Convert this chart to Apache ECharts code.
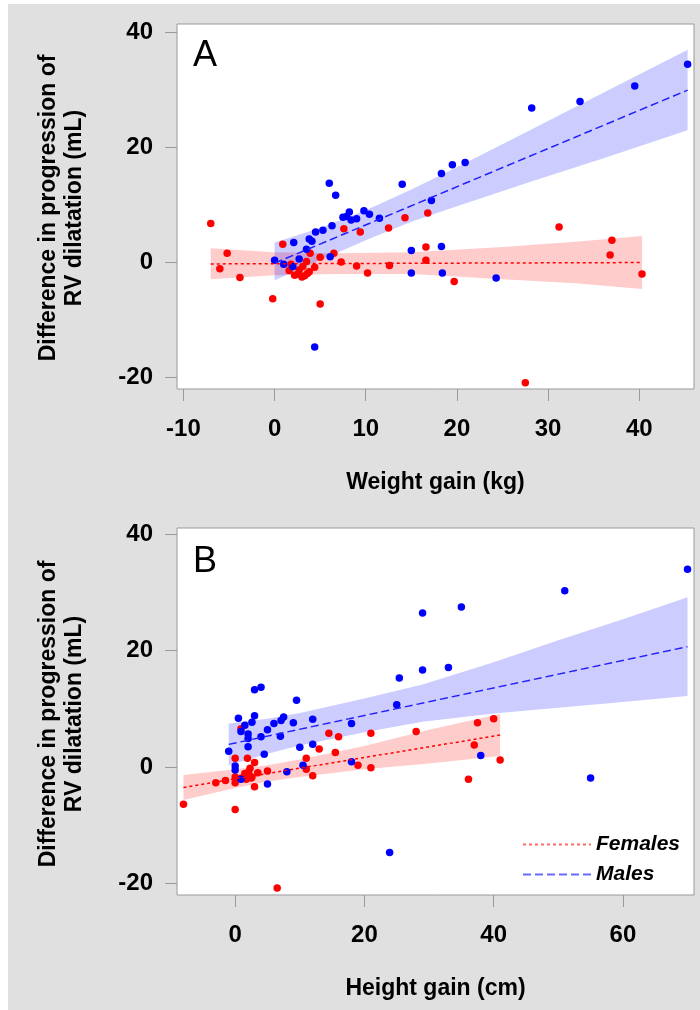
<!DOCTYPE html>
<html>
<head>
<meta charset="utf-8">
<title>RV dilatation vs weight and height gain</title>
<script src="https://cdn.jsdelivr.net/npm/echarts@6/dist/echarts.min.js"></script>
</head>
<body style="margin:0; background:#fff">
<div id="container" style="width:700px; height:1010px"></div>
<script type="text/javascript">
// points: [gain, difference in progression of RV dilatation]
var femalesWeight = [[-7.0,6.7],[-6.0,-1.2],[-5.2,1.5],[-3.8,-2.7],[-0.2,-6.4],[0.9,3.1],[1.8,-0.4],[1.6,-1.5],
    [2.2,-2.3],[2.6,-2.1],[2.7,-1.4],[3.0,-2.6],[3.3,-2.4],[3.1,-0.8],[3.5,0.1],[3.6,-2.0],[3.8,-1.7],[3.9,1.5],
    [4.4,-0.9],[5.0,0.8],[5.0,-7.3],[6.5,1.5],[7.3,0],[7.6,5.8],[9.0,-0.7],[9.4,5.2],[10.2,-1.9],[12.5,5.9],
    [12.6,-0.6],[14.3,7.7],[16.8,8.5],[16.6,0.3],[16.6,2.6],[19.7,-3.4],[27.5,-21.0],[31.2,6.1],[36.8,1.2],
    [37.0,3.8],[40.3,-2.1]];
var malesWeight = [[0,0.3],[1.0,-0.4],[2.0,-0.8],[2.1,3.4],[2.7,0.5],[3.5,2.2],[3.8,4.0],[4.1,3.6],[4.4,-14.8],
    [4.5,5.2],[5.3,5.5],[6.0,13.7],[6.1,0.9],[6.3,6.3],[6.7,11.6],[7.5,7.8],[7.9,7.9],[8.2,8.7],[8.4,7.3],
    [9.0,7.5],[9.8,8.9],[10.4,8.3],[11.5,7.6],[14.0,13.5],[15.0,2.0],[15.0,-1.9],[17.2,10.7],[18.3,15.4],
    [18.3,2.7],[18.4,-1.9],[19.5,16.9],[20.9,17.3],[24.3,-2.8],[28.2,26.8],[33.5,27.9],[39.5,30.6],[45.3,34.4]];
var femalesHeight = [[-8.0,-6.4],[-3.0,-2.7],[-1.5,-2.3],[0,-7.3],[0,1.5],[0,-1.7],[0,-2.7],[0.9,6.6],[1.0,-1.9],
    [1.7,-2.1],[1.5,-1.1],[1.9,1.5],[2.1,-0.8],[2.3,-0.2],[2.5,-1.9],[2.6,-1.7],[3.0,0.8],[3.0,-3.4],[3.5,-1.0],
    [5.0,-0.7],[6.5,-20.8],[11.0,1.5],[11.0,-0.4],[12.0,-1.5],[13.0,3.1],[14.5,5.8],[15.5,2.5],[16.0,5.2],
    [19.0,0.3],[21.0,5.8],[21.0,-0.1],[28.0,6.1],[36.1,-2.1],[37.0,3.8],[37.5,7.6],[40.0,8.3],[41.0,1.2]];
var malesHeight = [[-1.0,2.7],[0,0.2],[0,-0.5],[0.5,8.4],[0.9,6.1],[0.9,-2.1],[1.5,7.2],[2.0,5.7],[2.0,4.9],
    [2.0,3.5],[2.6,7.7],[3.0,13.3],[3.0,8.8],[4.0,13.7],[4.0,5.2],[4.5,2.2],[5.0,6.4],[5.0,-2.9],[6.0,7.5],
    [7.0,5.3],[7.1,8.0],[7.5,8.6],[8.0,-0.8],[9.0,7.6],[9.5,11.5],[10.0,3.4],[10.5,0.3],[12.0,8.2],[12.0,3.9],
    [18.0,0.9],[18.0,7.5],[23.9,-14.7],[25.0,10.7],[25.4,15.3],[29.0,26.5],[29.0,16.7],[33.0,17.1],[35.0,27.5],
    [38.0,2.0],[51.0,30.3],[55.0,-1.9],[70.0,34.0]];

// fitted lines (end points)
var fitFemalesWeight = [[-7.0,-0.34],[40.3,-0.1]];
var fitMalesWeight = [[0,-0.2],[45.3,29.9]];
var fitFemalesHeight = [[-8.0,-3.5],[41.0,5.5]];
var fitMalesHeight = [[-1.0,3.9],[70.0,20.7]];

// confidence bands: x, lower, upper
var bandFemalesWeightX = [-7, 0, 7, 15, 25, 33, 40.3];
var bandFemalesWeightLo = [-3.0, -2.3, -2.1, -2.1, -3.0, -3.7, -4.7];
var bandFemalesWeightHi = [2.4, 1.7, 1.5, 1.7, 2.6, 3.5, 4.5];
var bandMalesWeightX = [0, 5, 10, 15, 20, 28, 36, 45.3];
var bandMalesWeightLo = [-3.2, 0.3, 3.8, 7.0, 9.7, 13.9, 18.0, 22.9];
var bandMalesWeightHi = [3.4, 5.9, 9.0, 12.6, 16.5, 22.9, 29.4, 36.9];
var bandFemalesHeightX = [-8, 0, 5, 10, 20, 30, 41];
var bandFemalesHeightLo = [-5.65, -3.6, -2.5, -1.7, -0.4, 0.6, 1.9];
var bandFemalesHeightHi = [-1.35, -0.4, 0.3, 1.3, 3.6, 6.4, 9.1];
var bandMalesHeightX = [-1, 5, 10, 20, 29, 40, 50, 60, 70];
var bandMalesHeightLo = [0.3, 2.3, 3.7, 6.0, 7.8, 9.2, 10.2, 11.2, 12.2];
var bandMalesHeightHi = [7.5, 8.3, 9.3, 11.8, 14.2, 18.0, 21.8, 25.4, 29.2];

var xTicksWeight = [-10, 0, 10, 20, 30, 40];
var xTicksHeight = [0, 20, 40, 60];
var yTicks = [-20, 0, 20, 40];

var FONT = "'Liberation Sans', Arial, sans-serif";
var RED = '#ff0000', BLUE = '#0000ff';

var dom = document.getElementById('container');
var myChart = echarts.init(dom);

function xAxisFor(idx, min, max, ticks, name) {
    return {
        type: 'value', gridIndex: idx, min: min, max: max,
        name: name, nameLocation: 'middle', nameGap: 82,
        nameTextStyle: { fontFamily: FONT, fontWeight: 'bold', fontSize: 23, color: '#000' },
        axisLine: { show: false, onZero: false },
        axisTick: { show: true, length: 12, customValues: ticks, lineStyle: { color: '#999' } },
        axisLabel: { customValues: ticks, margin: 28, fontFamily: FONT, fontWeight: 'bold', fontSize: 24, color: '#000' },
        splitLine: { show: false }
    };
}
function yAxisFor(idx, min, max) {
    return {
        type: 'value', gridIndex: idx, min: min, max: max,
        axisLine: { show: false, onZero: false },
        axisTick: { show: true, length: 12, customValues: yTicks, lineStyle: { color: '#999' } },
        axisLabel: { customValues: yTicks, margin: 24, fontFamily: FONT, fontWeight: 'bold', fontSize: 24, color: '#000' },
        splitLine: { show: false }
    };
}
function bandSeries(idx, xs, lo, hi, fill) {
    return {
        type: 'custom', xAxisIndex: idx, yAxisIndex: idx, z: 1, silent: true,
        data: xs.map(function (x, i) { return [x, lo[i], hi[i]]; }),
        encode: { x: 0, y: [1, 2] },
        renderItem: function (params, api) {
            if (params.dataIndex !== 0) return null;
            var pts = [];
            for (var i = 0; i < xs.length; i++) pts.push(api.coord([xs[i], hi[i]]));
            for (var j = xs.length - 1; j >= 0; j--) pts.push(api.coord([xs[j], lo[j]]));
            return { type: 'polygon', shape: { points: pts }, style: { fill: fill } };
        }
    };
}
function pointSeries(idx, name, data, color) {
    return {
        type: 'scatter', name: name, xAxisIndex: idx, yAxisIndex: idx, z: 2,
        data: data, symbolSize: 7.5, itemStyle: { color: color, opacity: 1 }
    };
}
function fitSeries(idx, name, data, color, dash) {
    return {
        type: 'line', name: name, xAxisIndex: idx, yAxisIndex: idx, z: 3,
        data: data, symbol: 'none', showSymbol: false,
        itemStyle: { color: color },
        lineStyle: { color: color, width: 1.5, type: dash }
    };
}
function panelText(txt, x, y) {
    return { type: 'text', x: x, y: y, z: 10,
        style: { text: txt, font: '36px ' + FONT, fill: '#000', textVerticalAlign: 'middle' } };
}
function yTitle(y) {
    return { type: 'text', x: 62, y: y, rotation: Math.PI / 2, z: 10,
        style: { text: 'Difference in progression of\nRV dilatation (mL)', font: 'bold 23px ' + FONT,
            fill: '#000', align: 'center', verticalAlign: 'middle', lineHeight: 26 } };
}

option = {
    backgroundColor: '#e0e0e0',
    animation: false,
    grid: [
        { left: 177, top: 24, width: 517, height: 365, show: true, backgroundColor: '#fff', borderColor: '#999', borderWidth: 1 },
        { left: 177, top: 528, width: 517, height: 367, show: true, backgroundColor: '#fff', borderColor: '#999', borderWidth: 1 }
    ],
    xAxis: [
        xAxisFor(0, -10.7, 46, xTicksWeight, 'Weight gain (kg)'),
        xAxisFor(1, -9, 71, xTicksHeight, 'Height gain (cm)')
    ],
    yAxis: [
        yAxisFor(0, -22.1, 41.4),
        yAxisFor(1, -22.0, 41.1)
    ],
    legend: {
        data: [
            { name: 'Females', lineStyle: { color: '#ff6a6a' } },
            { name: 'Males', lineStyle: { color: '#6a6aff' } }
        ],
        orient: 'vertical', left: 517, top: 829, itemWidth: 68, itemHeight: 14, itemGap: 9,
        selectedMode: false,
        itemStyle: { color: 'rgba(0,0,0,0)', borderWidth: 0, opacity: 0 },
        textStyle: { fontFamily: FONT, fontStyle: 'italic', fontWeight: 'bold', fontSize: 21, color: '#000' }
    },
    graphic: [
        { type: 'rect', shape: { x: 0, y: 0, width: 8, height: 1010 }, style: { fill: '#fff' }, z: 0 },
        { type: 'rect', shape: { x: 0, y: 0, width: 700, height: 4 }, style: { fill: '#fff' }, z: 0 },
        panelText('A', 193, 56),
        panelText('B', 193, 562),
        yTitle(208),
        yTitle(714)
    ],
    series: [
        bandSeries(0, bandFemalesWeightX, bandFemalesWeightLo, bandFemalesWeightHi, 'rgba(255,0,0,0.2)'),
        bandSeries(0, bandMalesWeightX, bandMalesWeightLo, bandMalesWeightHi, 'rgba(0,0,255,0.2)'),
        bandSeries(1, bandFemalesHeightX, bandFemalesHeightLo, bandFemalesHeightHi, 'rgba(255,0,0,0.2)'),
        bandSeries(1, bandMalesHeightX, bandMalesHeightLo, bandMalesHeightHi, 'rgba(0,0,255,0.2)'),
        pointSeries(0, 'Females (weight)', femalesWeight, RED),
        pointSeries(0, 'Males (weight)', malesWeight, BLUE),
        pointSeries(1, 'Females (height)', femalesHeight, RED),
        pointSeries(1, 'Males (height)', malesHeight, BLUE),
        fitSeries(0, 'Females', fitFemalesWeight, RED, [3, 3]),
        fitSeries(0, 'Males', fitMalesWeight, '#2020ff', [8, 4]),
        fitSeries(1, 'Females', fitFemalesHeight, RED, [3, 3]),
        fitSeries(1, 'Males', fitMalesHeight, '#2020ff', [8, 4])
    ]
};

if (option && typeof option === 'object') {
    myChart.setOption(option, true);
}
</script>
</body>
</html>
